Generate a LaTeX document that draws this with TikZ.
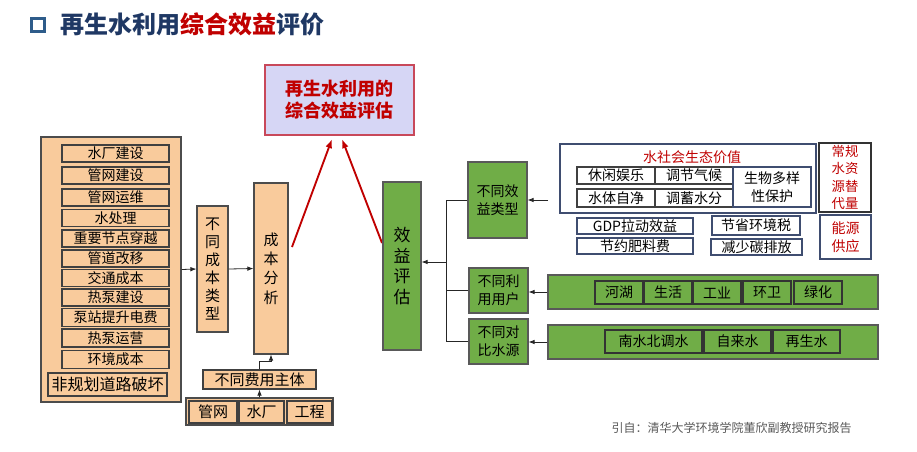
\documentclass[tikz,border=0pt]{standalone}
\usepackage{fontspec}
\setmainfont{Noto Sans CJK SC}
\usepackage{xcolor}
\usepackage{tikz}
\usetikzlibrary{arrows.meta,positioning,calc}
\definecolor{titleblue}{HTML}{1F3864}
\definecolor{iconblue}{HTML}{2E5C8A}
\definecolor{accentred}{HTML}{C00000}
\definecolor{costpeach}{HTML}{F9CB9C}
\definecolor{benefitgreen}{HTML}{70AD47}
\definecolor{targetfill}{HTML}{D6D6F5}
\definecolor{targetline}{HTML}{C8485A}
\definecolor{valueblue}{HTML}{3F4D70}
\definecolor{notegray}{HTML}{595959}
\tikzset{
  pxsize/.style 2 args={minimum width=#1*0.75pt,minimum height=#2*0.75pt},
  costbox/.style={draw=black!70,fill=costpeach,line width=0.8pt,inner sep=0pt,align=center,font=\fontsize{11.25}{13.5}\selectfont},
  costitem/.style={draw=black!75,fill=costpeach,line width=1pt,inner sep=0pt,font=\fontsize{10.5}{12}\selectfont},
  benefitbox/.style={draw=black!65,fill=benefitgreen,line width=0.8pt,inner sep=0pt,align=center,font=\fontsize{10.5}{13.5}\selectfont},
  greenitem/.style={draw=black!80,fill=benefitgreen,line width=0.9pt,inner sep=0pt,font=\fontsize{10.5}{12}\selectfont},
  valuebox/.style={draw=valueblue,fill=white,line width=0.8pt,inner sep=0pt,align=center,font=\fontsize{10.5}{12}\selectfont},
  valuecell/.style={draw=black!75,fill=white,line width=0.8pt,inner sep=0pt,align=center,font=\fontsize{10.5}{12}\selectfont},
  flow/.style={-{Latex[length=1.6mm,width=1.2mm]},line width=0.6pt,draw=black!85},
  evalflow/.style={-{Latex[length=2.4mm,width=1.8mm]},line width=1.4pt,draw=accentred}
}
\begin{document}
\begin{tikzpicture}[x=0.75pt,y=-0.75pt]
  \fill[white] (0,0) rectangle (917,451);
  \useasboundingbox (0,0) rectangle (917,451);
  % title
  \node[draw=iconblue,line width=2.6pt,minimum size=10pt,inner sep=0pt] (icon) at (38,25) {};
  \node[anchor=west,inner sep=0pt,text=titleblue,font=\bfseries\fontsize{18}{20}\selectfont] (title) at (60,24)
    {再生水利用\textcolor{accentred}{综合效益}评价};
  % cost side
  \node[costbox,pxsize={140}{265}] (costgroup) at (111,269.5) {};
  \node[costitem,pxsize={107}{17}] (c1) at (115.5,153.5) {水厂建设};
  \node[costitem,pxsize={107}{17}] (c2) at (115.5,175.5) {管网建设};
  \node[costitem,pxsize={107}{17}] (c3) at (115.5,197.5) {管网运维};
  \node[costitem,pxsize={107}{17}] (c4) at (115.5,218) {水处理};
  \node[costitem,pxsize={107}{17}] (c5) at (115.5,238.5) {重要节点穿越};
  \node[costitem,pxsize={107}{17}] (c6) at (115.5,258.5) {管道改移};
  \node[costitem,pxsize={107}{17}] (c7) at (115.5,278) {交通成本};
  \node[costitem,pxsize={107}{17}] (c8) at (115.5,297.5) {热泵建设};
  \node[costitem,pxsize={107}{18}] (c9) at (115.5,317.5) {泵站提升电费};
  \node[costitem,pxsize={107}{18}] (c10) at (115.5,338) {热泵运营};
  \node[costitem,pxsize={107}{18}] (c11) at (115.5,359.5) {环境成本};
  \node[costitem,pxsize={119}{23},font=\fontsize{12}{14}\selectfont] (c12) at (107.5,384.5) {非规划道路破坏};
  \node[costbox,pxsize={31}{126}] (costtype) at (212.5,269) {不\\同\\成\\本\\类\\型};
  \node[costbox,pxsize={34}{171},font=\fontsize{11.25}{14.5}\selectfont] (costana) at (271,268.5) {成\\本\\分\\析};
  \node[costitem,pxsize={113}{19},line width=0.8pt,font=\fontsize{11.25}{12}\selectfont] (payer) at (259.5,379.5) {不同费用主体};
  \node[costbox,pxsize={147}{27}] (payergroup) at (259.5,411.5) {};
  \node[costitem,pxsize={48}{22},font=\fontsize{11.25}{12}\selectfont] (p1) at (213,412) {管网};
  \node[costitem,pxsize={45}{22},font=\fontsize{11.25}{12}\selectfont] (p2) at (261.5,412) {水厂};
  \node[costitem,pxsize={45}{22},font=\fontsize{11.25}{12}\selectfont] (p3) at (309.5,412) {工程};
  \draw[flow] (costgroup.east) -- (costtype.west);
  \draw[flow] (costtype.east) -- (costana.west);
  \draw[flow] (payergroup.north) -- (payer.south);
  \draw[flow] (payer.north) -- ++(0,-8) -| (costana.south);
  % target
  \node[draw=targetline,fill=targetfill,line width=0.8pt,pxsize={149}{70},align=center,text=accentred,
    font=\bfseries\fontsize{13.5}{16.5}\selectfont] (target) at (339.5,100) {再生水利用的\\综合效益评估};
  \coordinate (costout) at (292,247);
  \coordinate (costin) at (332,139);
  \coordinate (benefitout) at (382,243);
  \coordinate (benefitin) at (342,139);
  \draw[evalflow] (costout) -- (costin);
  \draw[evalflow] (benefitout) -- (benefitin);
  % benefit side
  \node[benefitbox,pxsize={38}{168},font=\fontsize{12.75}{15.5}\selectfont] (benefit) at (402,266) {效\\益\\评\\估};
  \node[benefitbox,pxsize={59}{76}] (btype) at (497.5,200) {不同效\\益类型};
  \node[benefitbox,pxsize={59}{45}] (buser) at (498.5,290.5) {不同利\\用用户};
  \node[benefitbox,pxsize={59}{45}] (bsource) at (498.5,341.5) {不同对\\比水源};
  \coordinate (trunk) at (446,262);
  \draw[line width=0.6pt,draw=black!85] (btype.west) -| (trunk |- bsource.west) -- (bsource.west);
  \draw[line width=0.6pt,draw=black!85] (buser.west) -- (buser.west -| trunk);
  \draw[flow] (trunk) -- (trunk -| benefit.east);
  % users and sources
  \node[benefitbox,pxsize={330}{34}] (userbar) at (713,292) {};
  \node[greenitem,pxsize={48}{23}] (u1) at (619,292.5) {河湖};
  \node[greenitem,pxsize={48}{23}] (u2) at (668,292.5) {生活};
  \node[greenitem,pxsize={48}{23}] (u3) at (717,292.5) {工业};
  \node[greenitem,pxsize={48}{23}] (u4) at (767,292.5) {环卫};
  \node[greenitem,pxsize={48}{23}] (u5) at (818,292.5) {绿化};
  \node[benefitbox,pxsize={330}{34}] (sourcebar) at (713,342) {};
  \node[greenitem,pxsize={97}{23}] (s1) at (653.5,341.5) {南水北调水};
  \node[greenitem,pxsize={67}{23}] (s2) at (737.5,341.5) {自来水};
  \node[greenitem,pxsize={67}{23}] (s3) at (806.5,341.5) {再生水};
  \draw[flow] (userbar.west) -- (userbar.west -| buser.east);
  \draw[flow] (sourcebar.west) -- (sourcebar.west -| bsource.east);
  % benefit types
  \node[valuebox,pxsize={256}{69}] (social) at (688,178.5) {};
  \node[inner sep=0pt,text=accentred,font=\fontsize{10.5}{12}\selectfont] (socialtitle) at (692,157) {水社会生态价值};
  \node[valuecell,pxsize={78}{17}] (v1) at (616,175.5) {休闲娱乐};
  \node[valuecell,pxsize={78}{17}] (v2) at (694,175.5) {调节气候};
  \node[valuecell,pxsize={78}{18}] (v3) at (616,198) {水体自净};
  \node[valuecell,pxsize={78}{18}] (v4) at (694,198) {调蓄水分};
  \node[valuecell,draw=valueblue,pxsize={78}{40},font=\fontsize{10.5}{14}\selectfont] (v5) at (772,187) {生物多样\\性保护};
  \node[valuebox,pxsize={116}{16}] (g1) at (635,226) {GDP拉动效益};
  \node[valuebox,pxsize={116}{16}] (g2) at (635,246) {节约肥料费};
  \node[valuebox,pxsize={88}{19}] (g3) at (756,225.5) {节省环境税};
  \node[valuebox,pxsize={91}{16}] (g4) at (756.5,247) {减少碳排放};
  \node[valuebox,draw=black!80,pxsize={52}{69},text=accentred,font=\fontsize{10}{13}\selectfont] (replace) at (845,177.5) {常规\\水资\\源替\\代量};
  \node[valuebox,pxsize={51}{44},text=accentred,font=\fontsize{10.5}{13.5}\selectfont] (energy) at (845.5,237) {能源\\供应};
  \coordinate (typein) at (548,200);
  \draw[flow] (typein) -- (btype.east);
  % source note
  \node[inner sep=0pt,text=notegray,font=\fontsize{9}{10}\selectfont] (note) at (731.5,428) {引自：清华大学环境学院董欣副教授研究报告};
\end{tikzpicture}
\end{document}
